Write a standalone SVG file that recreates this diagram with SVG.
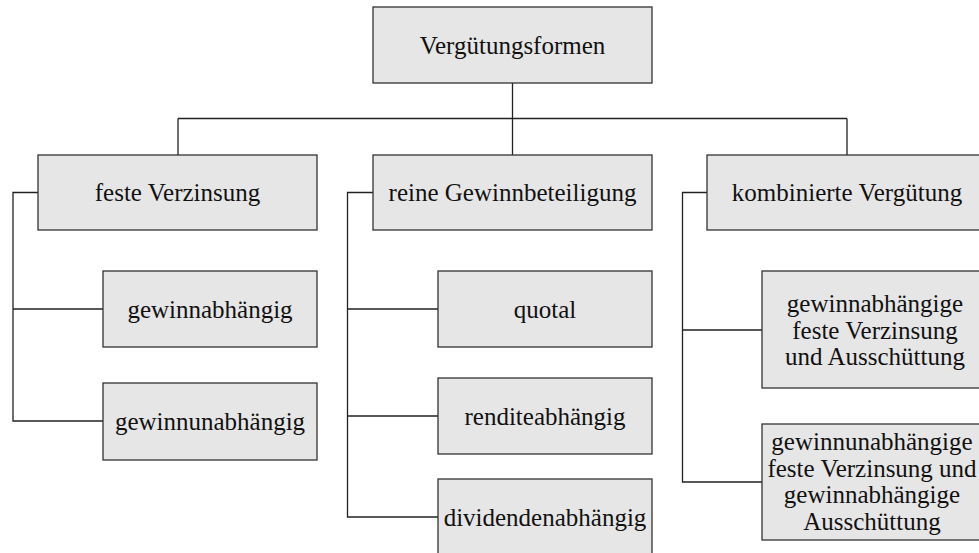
<svg xmlns="http://www.w3.org/2000/svg" width="979" height="553" viewBox="0 0 979 553">
<style>
.box{fill:#e6e6e6;stroke:#333;stroke-width:1.3}
.t{font-family:'Liberation Serif',Tinos,'Times New Roman',Times,'Noto Serif','DejaVu Serif',serif;font-size:25px;fill:#111;text-anchor:middle}
.c{fill:none;stroke:#222;stroke-width:1.3}
</style>
<rect width="979" height="553" fill="#fff"/>
<g id="connectors">
<path class="c" d="M512.5 83 V155 M178 118.5 H847 M178 118.5 V155 M847 118.5 V155"/>
<path class="c" d="M38 192.5 H13 V421 H103 M13 309 H103"/>
<path class="c" d="M373 192.5 H347.5 V517 H438 M347.5 309 H438 M347.5 416 H438"/>
<path class="c" d="M707 192.5 H682.5 V482 H762 M682.5 330 H762"/>
</g>
<g id="n0"><rect class="box" x="373" y="7" width="279" height="76"/><text class="t" x="512.5" y="54">Vergütungsformen</text></g>
<g id="n1"><rect class="box" x="38" y="155" width="279" height="75"/><text class="t" x="177.5" y="201">feste Verzinsung</text></g>
<g id="n2"><rect class="box" x="373" y="155" width="279" height="75"/><text class="t" x="512.5" y="201">reine Gewinnbeteiligung</text></g>
<g id="n3"><rect class="box" x="707" y="155" width="281" height="75"/><text class="t" x="847" y="201">kombinierte Vergütung</text></g>
<g id="n4"><rect class="box" x="103" y="271" width="214" height="76"/><text class="t" x="210" y="318">gewinnabhängig</text></g>
<g id="n5"><rect class="box" x="103" y="383" width="214" height="77"/><text class="t" x="210" y="430">gewinnunabhängig</text></g>
<g id="n6"><rect class="box" x="438" y="271" width="214" height="76"/><text class="t" x="545" y="318">quotal</text></g>
<g id="n7"><rect class="box" x="438" y="378" width="214" height="76"/><text class="t" x="545" y="425">renditeabhängig</text></g>
<g id="n8"><rect class="box" x="438" y="479" width="214" height="77"/><text class="t" x="545" y="526">dividendenabhängig</text></g>
<g id="n9"><rect class="box" x="762" y="271" width="227" height="117"/><text class="t" x="875"><tspan x="875" y="312">gewinnabhängige</tspan><tspan x="875" y="338.5">feste Verzinsung</tspan><tspan x="875" y="365">und Ausschüttung</tspan></text></g>
<g id="n10"><rect class="box" x="762" y="424" width="227" height="116"/><text class="t" x="872"><tspan x="872" y="450">gewinnunabhängige</tspan><tspan x="872" y="476.5">feste Verzinsung und</tspan><tspan x="872" y="503">gewinnabhängige</tspan><tspan x="872" y="529.5">Ausschüttung</tspan></text></g>
</svg>
